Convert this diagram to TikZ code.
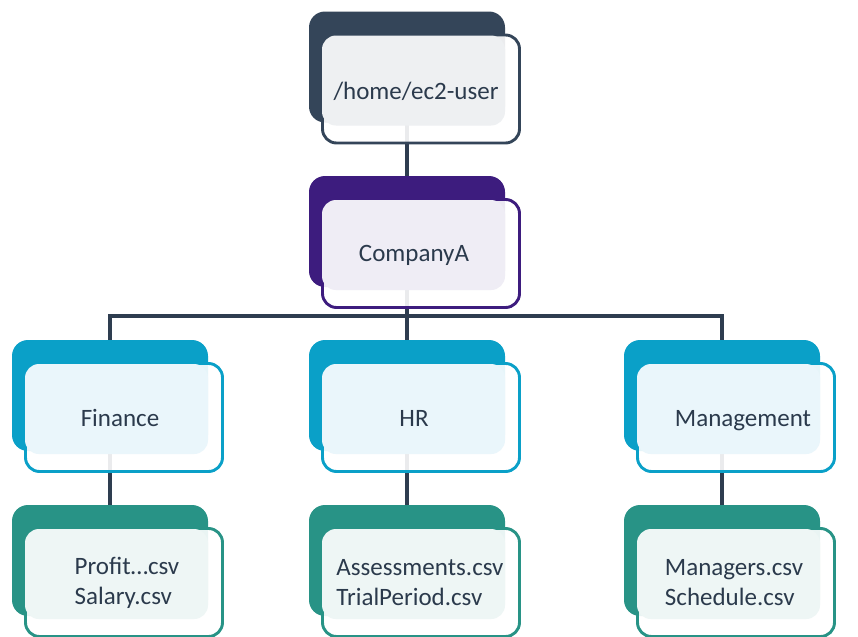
\documentclass[tikz,border=0pt]{standalone}
\usepackage{fontspec}
\setmainfont{Carlito}
\usepackage{tikz}
\usepackage{xcolor}
\usetikzlibrary{positioning, backgrounds}

\definecolor{homedk}{HTML}{344559}
\definecolor{homelt}{HTML}{EEF0F2}
\definecolor{compdk}{HTML}{3D1C7E}
\definecolor{complt}{HTML}{EFEDF5}
\definecolor{deptdk}{HTML}{0AA0C8}
\definecolor{deptlt}{HTML}{EAF6FB}
\definecolor{filedk}{HTML}{289386}
\definecolor{filelt}{HTML}{EEF6F5}
\definecolor{ink}{HTML}{2B3A4C}
\definecolor{linkcol}{HTML}{2E3D50}

\begin{document}
\begin{tikzpicture}[x=0.5pt, y=-0.5pt,
    boxback/.style={rectangle, rounded corners=8pt, fill=#1, inner sep=0pt, minimum width=98pt, minimum height=55.5pt},
    boxframe/.style={rectangle, rounded corners=7pt, draw=#1, line width=1.45pt, fill=white, fill opacity=0.9, inner sep=0pt, minimum width=98.5pt, minimum height=54pt},
    boxface/.style={rectangle, rounded corners=7pt, fill=#1, inner sep=0pt, minimum width=91.5pt, minimum height=45pt},
    boxtext/.style={text=ink, align=left, inner sep=0pt, font=\fontsize{12.5pt}{15pt}\selectfont},
    link/.style={draw=linkcol, line width=1.65pt}]
                    \useasboundingbox (0, 0) rectangle (858, 637);

                    % top folders
                    \node[boxback=homedk] (home-back) at (407, 67) {};
                    \node[boxframe=homedk] (home-frame) at (421, 89) {};
                    \node[boxface=homelt] (home-face) at (413.5, 80.5) {};
                    \node[boxtext] (home) at (416, 91) {/home/ec2-user};

                    \node[boxback=compdk] (comp-back) at (407, 231.5) {};
                    \node[boxframe=compdk] (comp-frame) at (421, 253.5) {};
                    \node[boxface=complt] (comp-face) at (413.5, 245) {};
                    \node[boxtext] (comp) at (414, 255) {CompanyA};

                    % departments
                    \node[boxback=deptdk] (fin-back) at (110, 395.5) {};
                    \node[boxframe=deptdk] (fin-frame) at (124, 417.5) {};
                    \node[boxface=deptlt] (fin-face) at (116.5, 409) {};
                    \node[boxtext] (fin) at (120, 418) {Finance};

                    \node[boxback=deptdk] (hr-back) at (407, 395.5) {};
                    \node[boxframe=deptdk] (hr-frame) at (421, 417.5) {};
                    \node[boxface=deptlt] (hr-face) at (413.5, 409) {};
                    \node[boxtext] (hr) at (414, 418) {HR};

                    \node[boxback=deptdk] (mgmt-back) at (722, 395.5) {};
                    \node[boxframe=deptdk] (mgmt-frame) at (736, 417.5) {};
                    \node[boxface=deptlt] (mgmt-face) at (728.5, 409) {};
                    \node[boxtext] (mgmt) at (743, 421) {Management};

                    % files
                    \node[boxback=filedk] (finf-back) at (110, 560.5) {};
                    \node[boxframe=filedk] (finf-frame) at (124, 582.5) {};
                    \node[boxface=filelt] (finf-face) at (116.5, 574) {};
                    \node[boxtext] (finf) at (127, 583) {Profit…csv\\Salary.csv};

                    \node[boxback=filedk] (hrf-back) at (407, 560.5) {};
                    \node[boxframe=filedk] (hrf-frame) at (421, 582.5) {};
                    \node[boxface=filelt] (hrf-face) at (413.5, 574) {};
                    \node[boxtext] (hrf) at (420, 583) {Assessments.csv\\TrialPeriod.csv};

                    \node[boxback=filedk] (mgmtf-back) at (722, 560.5) {};
                    \node[boxframe=filedk] (mgmtf-frame) at (736, 582.5) {};
                    \node[boxface=filelt] (mgmtf-face) at (728.5, 574) {};
                    \node[boxtext] (mgmtf) at (734, 583) {Managers.csv\\Schedule.csv};

                    \coordinate (bar) at (407, 316);

                    \begin{scope}[on background layer]
                    \draw[link] (home-back.south) -- (comp-back.north);
                    \draw[link] (comp-back.south) -- (hr-back.north);
                    \draw[link] (fin-back.north) |- (bar) -| (mgmt-back.north);
                    \draw[link] (fin-back.south) -- (finf-back.north);
                    \draw[link] (hr-back.south) -- (hrf-back.north);
                    \draw[link] (mgmt-back.south) -- (mgmtf-back.north);
                    \end{scope}
                \end{tikzpicture}
\end{document}
